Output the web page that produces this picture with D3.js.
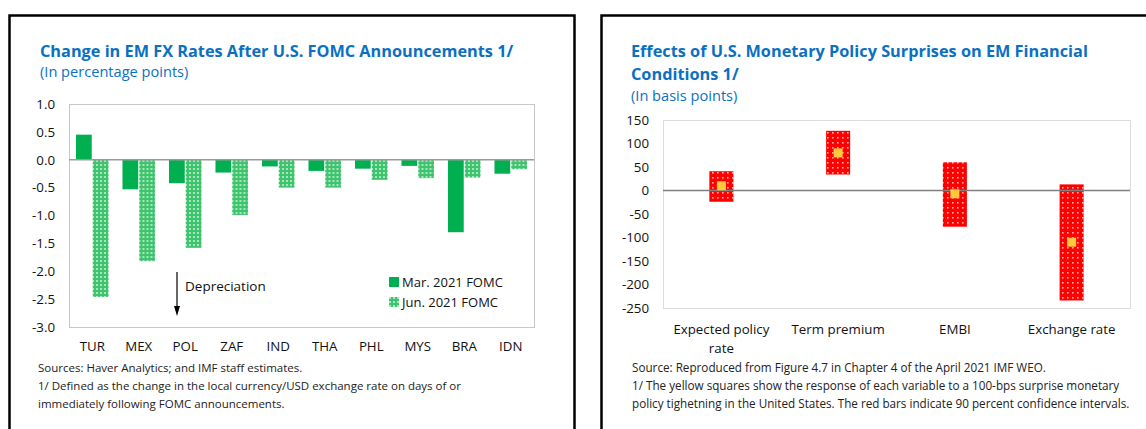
<!DOCTYPE html>
<html>
<head>
<meta charset="utf-8">
<script src="https://cdn.jsdelivr.net/npm/d3@7"></script>
<style>
    body { margin: 0; background: #fff; }
    svg text { font-family: "Open Sans", "Noto Sans", sans-serif; }
</style>
</head>
<body>
<div class="content"></div>
<script>
// left chart data
const fxCountries = ['TUR', 'MEX', 'POL', 'ZAF', 'IND', 'THA', 'PHL', 'MYS', 'BRA', 'IDN'];
const fxMar = [0.45, -0.53, -0.42, -0.23, -0.12, -0.20, -0.16, -0.11, -1.30, -0.25];
const fxJun = [-2.46, -1.82, -1.58, -0.99, -0.50, -0.50, -0.36, -0.33, -0.32, -0.17];
const fxSeries = ['Mar. 2021 FOMC', 'Jun. 2021 FOMC'];
const fxTicks = [1.0, 0.5, 0.0, -0.5, -1.0, -1.5, -2.0, -2.5, -3.0];

// right chart data
const mpVariables = ['Expected policy rate', 'Term premium', 'EMBI', 'Exchange rate'];
const mpPoint = [10, 80, -7, -110];
const mpLow = [-24, 34, -77, -234];
const mpHigh = [41, 127, 60, 13];
const mpTicks = [150, 100, 50, 0, -50, -100, -150, -200, -250];

(function () {
    let width = 1146;
    let height = 429;
    let blue = '#0b70c2';

    let svg = d3.select('.content').append('svg')
        .attr('width', width)
        .attr('height', height);

    svg.append('rect')
        .attr('width', width)
        .attr('height', height)
        .attr('fill', '#fff');

    let defs = svg.append('defs');

    // checkered light green for June
    let junPattern = defs.append('pattern')
        .attr('id', 'junPattern')
        .attr('patternUnits', 'userSpaceOnUse')
        .attr('width', 4)
        .attr('height', 4);
    junPattern.append('rect').attr('width', 4).attr('height', 4).attr('fill', '#3fc46e');
    junPattern.append('rect').attr('width', 2).attr('height', 2).attr('fill', '#a8e6bd');

    // red with light dots for confidence bands
    let redPattern = defs.append('pattern')
        .attr('id', 'redPattern')
        .attr('patternUnits', 'userSpaceOnUse')
        .attr('width', 5)
        .attr('height', 5);
    redPattern.append('rect').attr('width', 5).attr('height', 5).attr('fill', '#ff0000');
    redPattern.append('rect').attr('x', 2).attr('y', 2).attr('width', 1.6).attr('height', 1.6).attr('fill', '#ffb0b0');

    // panel frames
    svg.append('path')
        .attr('d', 'M9.5,440 V15.5 H574.5 V440')
        .attr('fill', 'none')
        .attr('stroke', '#000')
        .attr('stroke-width', 2.5);
    svg.append('path')
        .attr('d', 'M601.5,440 V15.5 H1150')
        .attr('fill', 'none')
        .attr('stroke', '#000')
        .attr('stroke-width', 2.5);

    let addLines = function (x, y, lines, size, color, weight, step) {
        let t = svg.append('text')
            .attr('x', x)
            .attr('y', y)
            .attr('font-size', size)
            .attr('font-weight', weight)
            .attr('fill', color);
        lines.forEach(function (l, i) {
            t.append('tspan').attr('x', x).attr('dy', i ? step : 0).text(l);
        });
        return t;
    };

    // ---------- left chart ----------
    let buildLeft = function () {
        let area = {left: 69, right: 534, top: 104, bottom: 327};

        addLines(40, 57, ['Change in EM FX Rates After U.S. FOMC Announcements 1/'], 16.3, blue, 700, 0);
        addLines(40, 77, ['(In percentage points)'], 14.6, blue, 400, 0);

        let y = d3.scaleLinear().domain([-3, 1]).range([area.bottom, area.top]);
        let x0 = d3.scaleBand().domain(fxCountries).range([area.left, area.right])
            .paddingInner(0.3).paddingOuter(0.15);
        let x1 = d3.scaleBand().domain(fxSeries).range([0, x0.bandwidth()]).paddingInner(0.06);

        svg.append('rect')
            .attr('x', area.left + 0.5)
            .attr('y', area.top + 0.5)
            .attr('width', area.right - area.left)
            .attr('height', area.bottom - area.top)
            .attr('fill', 'none')
            .attr('stroke', '#c8c8c8');

        let yAxis = d3.axisLeft(y)
            .tickValues(fxTicks)
            .tickFormat(d3.format('.1f'))
            .tickSize(0)
            .tickPadding(14);
        let gY = svg.append('g')
            .attr('transform', 'translate(' + area.left + ',0)')
            .call(yAxis);
        gY.select('.domain').remove();
        gY.selectAll('text').attr('font-size', 13.3).attr('fill', '#111')
            .text(function (d) { return d3.format('.1f')(d).replace('−', '-'); });

        let xAxis = d3.axisBottom(x0).tickSize(0).tickPadding(15);
        let gX = svg.append('g')
            .attr('transform', 'translate(0,' + area.bottom + ')')
            .call(xAxis);
        gX.select('.domain').remove();
        gX.selectAll('text').attr('font-size', 13.3).attr('fill', '#111');

        let rows = fxCountries.map(function (c, i) {
            return {country: c, values: [fxMar[i], fxJun[i]]};
        });

        let groups = svg.append('g').selectAll('g')
            .data(rows)
            .enter()
            .append('g')
            .attr('transform', function (d) { return 'translate(' + x0(d.country) + ',0)'; });

        groups.selectAll('rect')
            .data(function (d) {
                return d.values.map(function (v, i) { return {series: fxSeries[i], value: v}; });
            })
            .enter()
            .append('rect')
            .attr('x', function (d) { return x1(d.series); })
            .attr('width', x1.bandwidth())
            .attr('y', function (d) { return y(Math.max(0, d.value)); })
            .attr('height', function (d) { return Math.abs(y(d.value) - y(0)); })
            .attr('fill', function (d, i) { return i === 0 ? '#00b050' : 'url(#junPattern)'; });

        // zero line
        svg.append('line')
            .attr('x1', area.left)
            .attr('x2', area.right)
            .attr('y1', y(0))
            .attr('y2', y(0))
            .attr('stroke', '#9a9a9a')
            .attr('stroke-width', 1.3);

        // depreciation arrow
        svg.append('line')
            .attr('x1', 177)
            .attr('x2', 177)
            .attr('y1', 272)
            .attr('y2', 308)
            .attr('stroke', '#000')
            .attr('stroke-width', 1.2);
        svg.append('path')
            .attr('d', 'M174,306 L180,306 L177,316 Z')
            .attr('fill', '#000');
        addLines(185, 291, ['Depreciation'], 13.5, '#111', 400, 0);

        // legend
        let legend = svg.append('g').selectAll('g')
            .data(fxSeries)
            .enter()
            .append('g')
            .attr('transform', function (d, i) { return 'translate(389,' + (277 + i * 20) + ')'; });
        legend.append('rect')
            .attr('width', 10)
            .attr('height', 10)
            .attr('fill', function (d, i) { return i === 0 ? '#00b050' : 'url(#junPattern)'; });
        legend.append('text')
            .attr('x', 13)
            .attr('y', 10)
            .attr('font-size', 13)
            .attr('fill', '#111')
            .text(function (d) { return d; });

        addLines(38, 372, [
            'Sources: Haver Analytics; and IMF staff estimates.',
            '1/ Defined as the change in the local currency/USD exchange rate on days of or',
            'immediately following FOMC announcements.'
        ], 11.5, '#222', 400, 18);
    };

    // ---------- right chart ----------
    let buildRight = function () {
        let area = {left: 663, right: 1130, top: 120, bottom: 308};

        addLines(631, 57, ['Effects of U.S. Monetary Policy Surprises on EM Financial', 'Conditions 1/'],
            16.3, blue, 700, 23);
        addLines(631, 101, ['(In basis points)'], 14.6, blue, 400, 0);

        let y = d3.scaleLinear().domain([-250, 150]).range([area.bottom, area.top]);
        let x = d3.scaleBand().domain(mpVariables).range([area.left, area.right])
            .paddingInner(0.794).paddingOuter(0.397);

        svg.append('rect')
            .attr('x', area.left + 0.5)
            .attr('y', area.top + 0.5)
            .attr('width', area.right - area.left)
            .attr('height', area.bottom - area.top)
            .attr('fill', 'none')
            .attr('stroke', '#dcdcdc');

        let yAxis = d3.axisLeft(y).tickValues(mpTicks).tickSize(0).tickPadding(14);
        let gY = svg.append('g')
            .attr('transform', 'translate(' + area.left + ',0)')
            .call(yAxis);
        gY.select('.domain').remove();
        gY.selectAll('text').attr('font-size', 13.3).attr('fill', '#111')
            .text(function (d) { return String(d); });

        let xAxis = d3.axisBottom(x).tickSize(0).tickPadding(17);
        let gX = svg.append('g')
            .attr('transform', 'translate(0,' + area.bottom + ')')
            .call(xAxis);
        gX.select('.domain').remove();
        gX.selectAll('text').attr('font-size', 13.3).attr('fill', '#111')
            .each(function (d) {
                // wrap long category names onto two lines
                let t = d3.select(this);
                if (d.length > 16) {
                    let words = d.split(' ');
                    let last = words.pop();
                    t.text(null);
                    t.append('tspan').attr('x', 0).text(words.join(' '));
                    t.append('tspan').attr('x', 0).attr('dy', 19).text(last);
                }
            });

        let rows = mpVariables.map(function (v, i) {
            return {name: v, point: mpPoint[i], low: mpLow[i], high: mpHigh[i]};
        });

        svg.append('g').selectAll('rect')
            .data(rows)
            .enter()
            .append('rect')
            .attr('x', function (d) { return x(d.name); })
            .attr('width', x.bandwidth())
            .attr('y', function (d) { return y(d.high); })
            .attr('height', function (d) { return y(d.low) - y(d.high); })
            .attr('fill', 'url(#redPattern)');

        svg.append('line')
            .attr('x1', area.left)
            .attr('x2', area.right)
            .attr('y1', y(0))
            .attr('y2', y(0))
            .attr('stroke', '#808080')
            .attr('stroke-width', 1.3);

        svg.append('g').selectAll('rect')
            .data(rows)
            .enter()
            .append('rect')
            .attr('x', function (d) { return x(d.name) + x.bandwidth() / 2 - 4.5; })
            .attr('y', function (d) { return y(d.point) - 4.5; })
            .attr('width', 9)
            .attr('height', 9)
            .attr('fill', '#ffc83d');

        addLines(632, 372, [
            'Source: Reproduced from Figure 4.7 in Chapter 4 of the April 2021 IMF WEO.',
            '1/ The yellow squares show the response of each variable to a 100-bps surprise monetary',
            'policy tighetning in the United States. The red bars indicate 90 percent confidence intervals.'
        ], 11.7, '#222', 400, 18);
    };

    buildLeft();
    buildRight();
})();
</script>
</body>
</html>
